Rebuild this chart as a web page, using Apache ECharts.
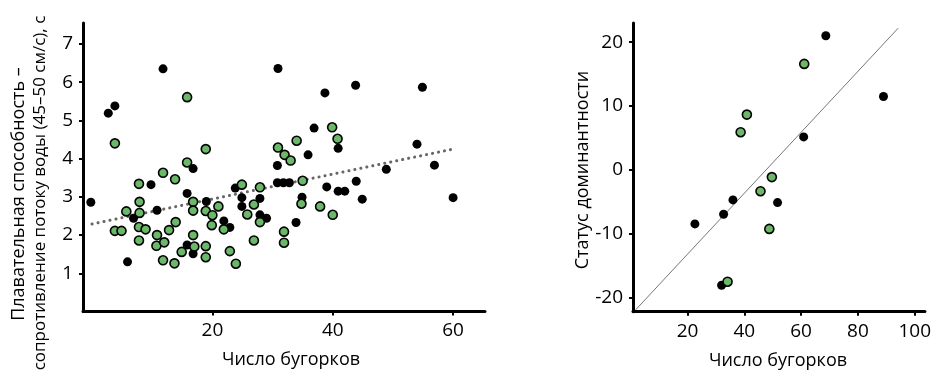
<!DOCTYPE html>
<html>
<head>
<meta charset="utf-8">
<script src="https://cdn.jsdelivr.net/npm/echarts@6/dist/echarts.min.js"></script>
<style>
  html, body { margin: 0; padding: 0; background: #fff; }
  #chart { width: 934px; height: 372px; }
</style>
</head>
<body>
<div id="chart"></div>
<script>
// Left panel: swimming ability vs. number of tubercles
const swimBlackX = [2.7, 3.8, 11.8, 16.8, 9.8, 30.9, 38.7, 43.8, 54.9, 36.9, 40.9, 54.0, 30.8, 35.9, 48.9, 56.9, 30.8, 31.8, 32.8, 43.9, 39.0, 40.9, 42.0, 44.9, 60.0, 34.9, 33.9, 23.8, 24.9, 27.9, 24.9, 27.9, 29.0, 21.9, 22.9, -0.2, 6.9, 10.8, 5.9, 15.8, 19.0, 15.8, 16.8];
const swimBlackY = [5.19, 5.38, 6.35, 3.74, 3.32, 6.36, 5.72, 5.92, 5.87, 4.80, 4.27, 4.38, 3.82, 4.10, 3.72, 3.83, 3.37, 3.37, 3.37, 3.41, 3.26, 3.15, 3.15, 2.94, 2.98, 2.99, 2.33, 3.23, 2.98, 2.96, 2.75, 2.53, 2.44, 2.37, 2.20, 2.86, 2.44, 2.65, 1.30, 3.09, 2.88, 1.74, 1.51];
const swimGreenX = [3.8, 15.8, 18.9, 15.8, 11.8, 13.8, 7.8, 24.9, 29.9, 39.9, 34.0, 40.8, 30.9, 32.0, 33.0, 35.0, 27.9, 34.8, 37.9, 40.0, 26.9, 25.8, 27.9, 31.9, 31.9, 26.9, 22.9, 23.9, 5.7, 7.9, 7.9, 7.8, 8.9, 3.8, 4.9, 7.8, 10.8, 10.7, 12.0, 12.8, 13.9, 11.8, 13.7, 14.9, 17.0, 16.8, 18.9, 18.9, 16.8, 16.8, 18.9, 20.0, 19.9, 21.0, 21.9];
const swimGreenY = [4.40, 5.61, 4.25, 3.90, 3.63, 3.46, 3.34, 3.32, 7.59, 4.82, 4.47, 4.52, 4.29, 4.10, 3.95, 3.42, 3.25, 2.82, 2.75, 2.53, 2.80, 2.54, 2.34, 2.09, 1.80, 1.86, 1.58, 1.25, 2.62, 2.87, 2.58, 2.21, 2.15, 2.11, 2.11, 1.86, 2.00, 1.72, 1.81, 2.13, 2.34, 1.34, 1.26, 1.56, 1.70, 2.00, 1.71, 1.42, 2.87, 2.64, 2.63, 2.52, 2.26, 2.75, 2.15];
const swimTrendX = [0, 60];
const swimTrendY = [2.29, 4.25];
const swimXTicks = [20, 40, 60];
const swimYTicks = [1, 2, 3, 4, 5, 6, 7];

// Right panel: dominance status vs. number of tubercles
const domBlackX = [68.7, 89.0, 60.9, 51.7, 36.0, 32.7, 22.6, 32.0];
const domBlackY = [21.0, 11.5, 5.17, -5.12, -4.70, -6.94, -8.46, -18.06];
const domGreenX = [61.1, 40.9, 38.7, 49.7, 45.7, 48.8, 34.1];
const domGreenY = [16.6, 8.66, 5.9, -1.13, -3.34, -9.24, -17.5];
const domLineX = [1.75, 94.2];
const domLineY = [-21.9, 22.2];
const domXTicks = [20, 40, 60, 80, 100];
const domYTicks = [-20, -10, 0, 10, 20];

const FONT = "'Open Sans', 'Noto Sans', sans-serif";
const GREEN = '#6cb86a';

const zip = (xs, ys) => xs.map((x, i) => [x, ys[i]]);

function axisCfg(grid, min, max, ticks) {
  return {
    type: 'value', gridIndex: grid, min: min, max: max,
    splitLine: { show: false },
    axisLine: { onZero: false, lineStyle: { color: '#000', width: 3 } },
    axisTick: { customValues: ticks, length: 4, lineStyle: { color: '#000', width: 2 } },
    axisLabel: { customValues: ticks, color: '#000', fontSize: 19, fontFamily: FONT, margin: 10 }
  };
}
function blackDots(axis, xs, ys) {
  return {
    type: 'scatter', xAxisIndex: axis, yAxisIndex: axis, data: zip(xs, ys),
    symbolSize: 9, itemStyle: { color: '#000', opacity: 1 }, z: 3, silent: true
  };
}
function greenDots(axis, xs, ys) {
  return {
    type: 'scatter', xAxisIndex: axis, yAxisIndex: axis, data: zip(xs, ys),
    symbolSize: 9, itemStyle: { color: GREEN, borderColor: '#000', borderWidth: 1.6, opacity: 1 }, z: 4, silent: true
  };
}
function label(text, x, y, rotate, size) {
  return {
    type: 'text', x: x, y: y, rotation: rotate ? Math.PI / 2 : 0, silent: true,
    style: { text: text, fontSize: size || 18, fontFamily: FONT, fill: '#000', align: 'center', verticalAlign: 'middle' }
  };
}

const chart = echarts.init(document.getElementById('chart'), null, { renderer: 'canvas' });
chart.setOption({
  animation: false,
  backgroundColor: '#fff',
  grid: [
    { left: 83, top: 23, right: 449, bottom: 60.5 },
    { left: 633, top: 23, right: 6, bottom: 60.3 }
  ],
  xAxis: [
    axisCfg(0, -1.5, 65.3, swimXTicks),
    axisCfg(1, 0.8, 103.6, domXTicks)
  ],
  yAxis: [
    axisCfg(0, 0, 7.55, swimYTicks),
    axisCfg(1, -22.2, 23, domYTicks)
  ],
  series: [
    {
      type: 'line', xAxisIndex: 0, yAxisIndex: 0, data: zip(swimTrendX, swimTrendY),
      symbol: 'none', z: 2, silent: true,
      lineStyle: { color: '#666', width: 3, type: [0.1, 6], cap: 'round' }
    },
    {
      type: 'line', xAxisIndex: 1, yAxisIndex: 1, data: zip(domLineX, domLineY),
      symbol: 'none', z: 2, silent: true,
      lineStyle: { color: '#777', width: 1 }
    },
    blackDots(0, swimBlackX, swimBlackY),
    greenDots(0, swimGreenX, swimGreenY),
    blackDots(1, domBlackX, domBlackY),
    greenDots(1, domGreenX, domGreenY)
  ],
  graphic: [
    label('Плавательная способность –', 19, 194, true, 18),
    label('сопротивление потоку воды (45–50 см/с), с', 40, 193, true, 17),
    label('Число бугорков', 291, 360, false),
    label('Статус доминантности', 583, 170, true),
    label('Число бугорков', 778, 361, false)
  ]
});
</script>
</body>
</html>
